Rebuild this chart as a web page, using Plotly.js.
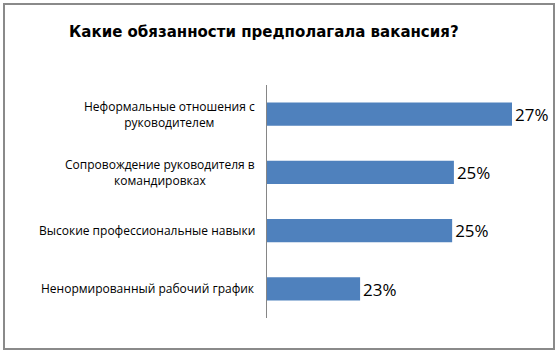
<!DOCTYPE html>
<html>
<head>
<meta charset="utf-8">
<script src="https://cdn.plot.ly/plotly-3.0.1.min.js"></script>
<style>
html,body{margin:0;padding:0;background:#fff;}
#chart{width:559px;height:354px;}
</style>
</head>
<body>
<div id="chart"></div>
<script>
const categories = [
  'Неформальные отношения с<br>руководителем',
  'Сопровождение руководителя в<br>командировках',
  'Высокие профессиональные навыки',
  'Ненормированный рабочий график'
];
const values = [0.270, 0.2534, 0.2529, 0.2266];
const chartTitle = 'Какие обязанности предполагала вакансия?';

const trace = {
  type: 'bar',
  orientation: 'h',
  y: categories,
  x: values,
  marker: {color: '#4F81BD', line: {width: 0}},
  width: 0.4,
  texttemplate: '%{x:.0%}',
  textposition: 'outside',
  cliponaxis: false,
  textfont: {family: 'Open Sans, sans-serif', size: 17.5, color: '#000'},
  hoverinfo: 'skip'
};

const annotations = categories.map(c => ({
  xref: 'paper', yref: 'y',
  x: 0, y: c,
  xanchor: 'right', yanchor: 'middle',
  xshift: -10,
  text: c,
  showarrow: false,
  align: 'center',
  font: {family: 'Open Sans, sans-serif', size: 12, color: '#000'}
}));

const layout = {
  width: 559, height: 354,
  margin: {l: 267, r: 12, t: 85, b: 36},
  paper_bgcolor: '#fff',
  plot_bgcolor: '#fff',
  showlegend: false,
  title: {
    text: '<b>' + chartTitle + '</b>',
    x: 0.472, xref: 'container', xanchor: 'center',
    y: 1 - 32/354, yref: 'container', yanchor: 'middle',
    font: {family: 'DejaVu Sans, sans-serif', size: 15, color: '#000'}
  },
  xaxis: {
    range: [0.20, 0.28],
    showgrid: false, zeroline: false, showline: false,
    showticklabels: false, ticks: ''
  },
  yaxis: {
    type: 'category',
    autorange: 'reversed',
    showgrid: false, zeroline: false,
    showline: true, linecolor: '#868686', linewidth: 1,
    showticklabels: false, ticks: ''
  },
  bargap: 0.6,
  annotations: annotations,
  shapes: [{
    type: 'rect', xref: 'paper', yref: 'paper',
    x0: (4-267)/280, x1: (554-267)/280,
    y0: (318-349)/233, y1: (318-4)/233,
    line: {color: '#8a8a8a', width: 2},
    fillcolor: 'rgba(0,0,0,0)',
    layer: 'below'
  }]
};

Plotly.newPlot('chart', [trace], layout, {displayModeBar: false, staticPlot: true});
</script>
</body>
</html>
